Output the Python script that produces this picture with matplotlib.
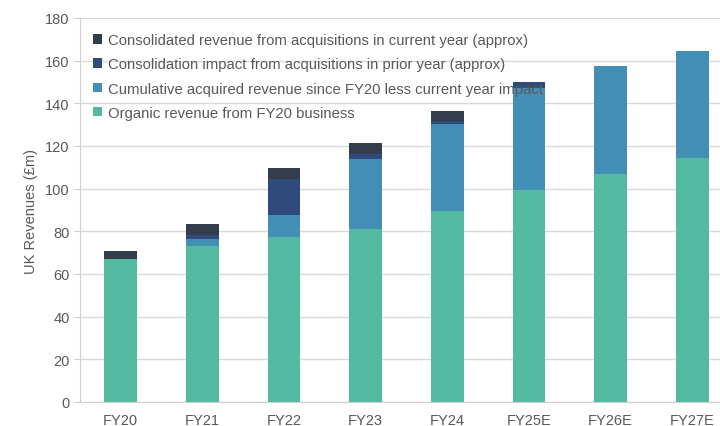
import matplotlib
matplotlib.use("Agg")
import matplotlib.pyplot as plt
import numpy as np

plt.rcParams['font.family'] = ['Liberation Sans', 'DejaVu Sans']

years = ['FY20', 'FY21', 'FY22', 'FY23', 'FY24', 'FY25E', 'FY26E', 'FY27E']
organic = [67.0, 73.0, 77.4, 81.1, 89.7, 99.4, 107.0, 114.4]
cumulative = [0.0, 3.4, 10.4, 32.7, 40.5, 47.6, 50.5, 50.3]
prior_year = [0.0, 2.0, 16.9, 2.3, 1.5, 3.0, 0.0, 0.0]
current_year = [3.6, 5.0, 5.1, 5.5, 4.6, 0.0, 0.0, 0.0]

labels = ['Organic revenue from FY20 business',
          'Cumulative acquired revenue since FY20 less current year impact',
          'Consolidation impact from acquisitions in prior year (approx)',
          'Consolidated revenue from acquisitions in current year (approx)']
colors = ['#53B9A0', '#438EB5', '#2F4A7B', '#333C4B']

fig = plt.figure(figsize=(7.2, 4.27), dpi=100)
ax = fig.add_axes([80/720, 1-403/427, 653/720, 384/427])

x = np.arange(len(years))
bottom = np.zeros(len(years))
handles = []
for vals, lab, col in zip([organic, cumulative, prior_year, current_year], labels, colors):
    b = ax.bar(x, vals, 0.4, bottom=bottom, color=col, label=lab, zorder=2)
    handles.append(b)
    bottom += np.array(vals)

ax.set_xlim(-0.5, 7.5)
ax.set_ylim(0, 180)
ax.set_yticks(range(0, 181, 20))
ax.set_xticks(x)
ax.set_xticklabels(years)
ax.grid(axis='y', color='#d9d9d9', linewidth=1, zorder=0)
ax.set_axisbelow(True)
for s in ['top', 'right']:
    ax.spines[s].set_visible(False)
for s in ['left', 'bottom']:
    ax.spines[s].set_color('#d0d0d0')
ax.tick_params(axis='y', colors='#595959', labelsize=10.5, length=4, color='#d0d0d0')
ax.tick_params(axis='x', colors='#595959', labelsize=10.5, length=0, pad=8)
ax.set_ylabel('UK Revenues (£m)', color='#595959', fontsize=10.5, labelpad=5)

ax.legend(handles[::-1], labels[::-1], loc='upper left', bbox_to_anchor=(0.0, 0.995),
          frameon=False, fontsize=10.7, handlelength=0.6, handleheight=0.6,
          handletextpad=0.4, labelspacing=0.68, labelcolor='#595959')

fig.savefig('out.png', dpi=100)
